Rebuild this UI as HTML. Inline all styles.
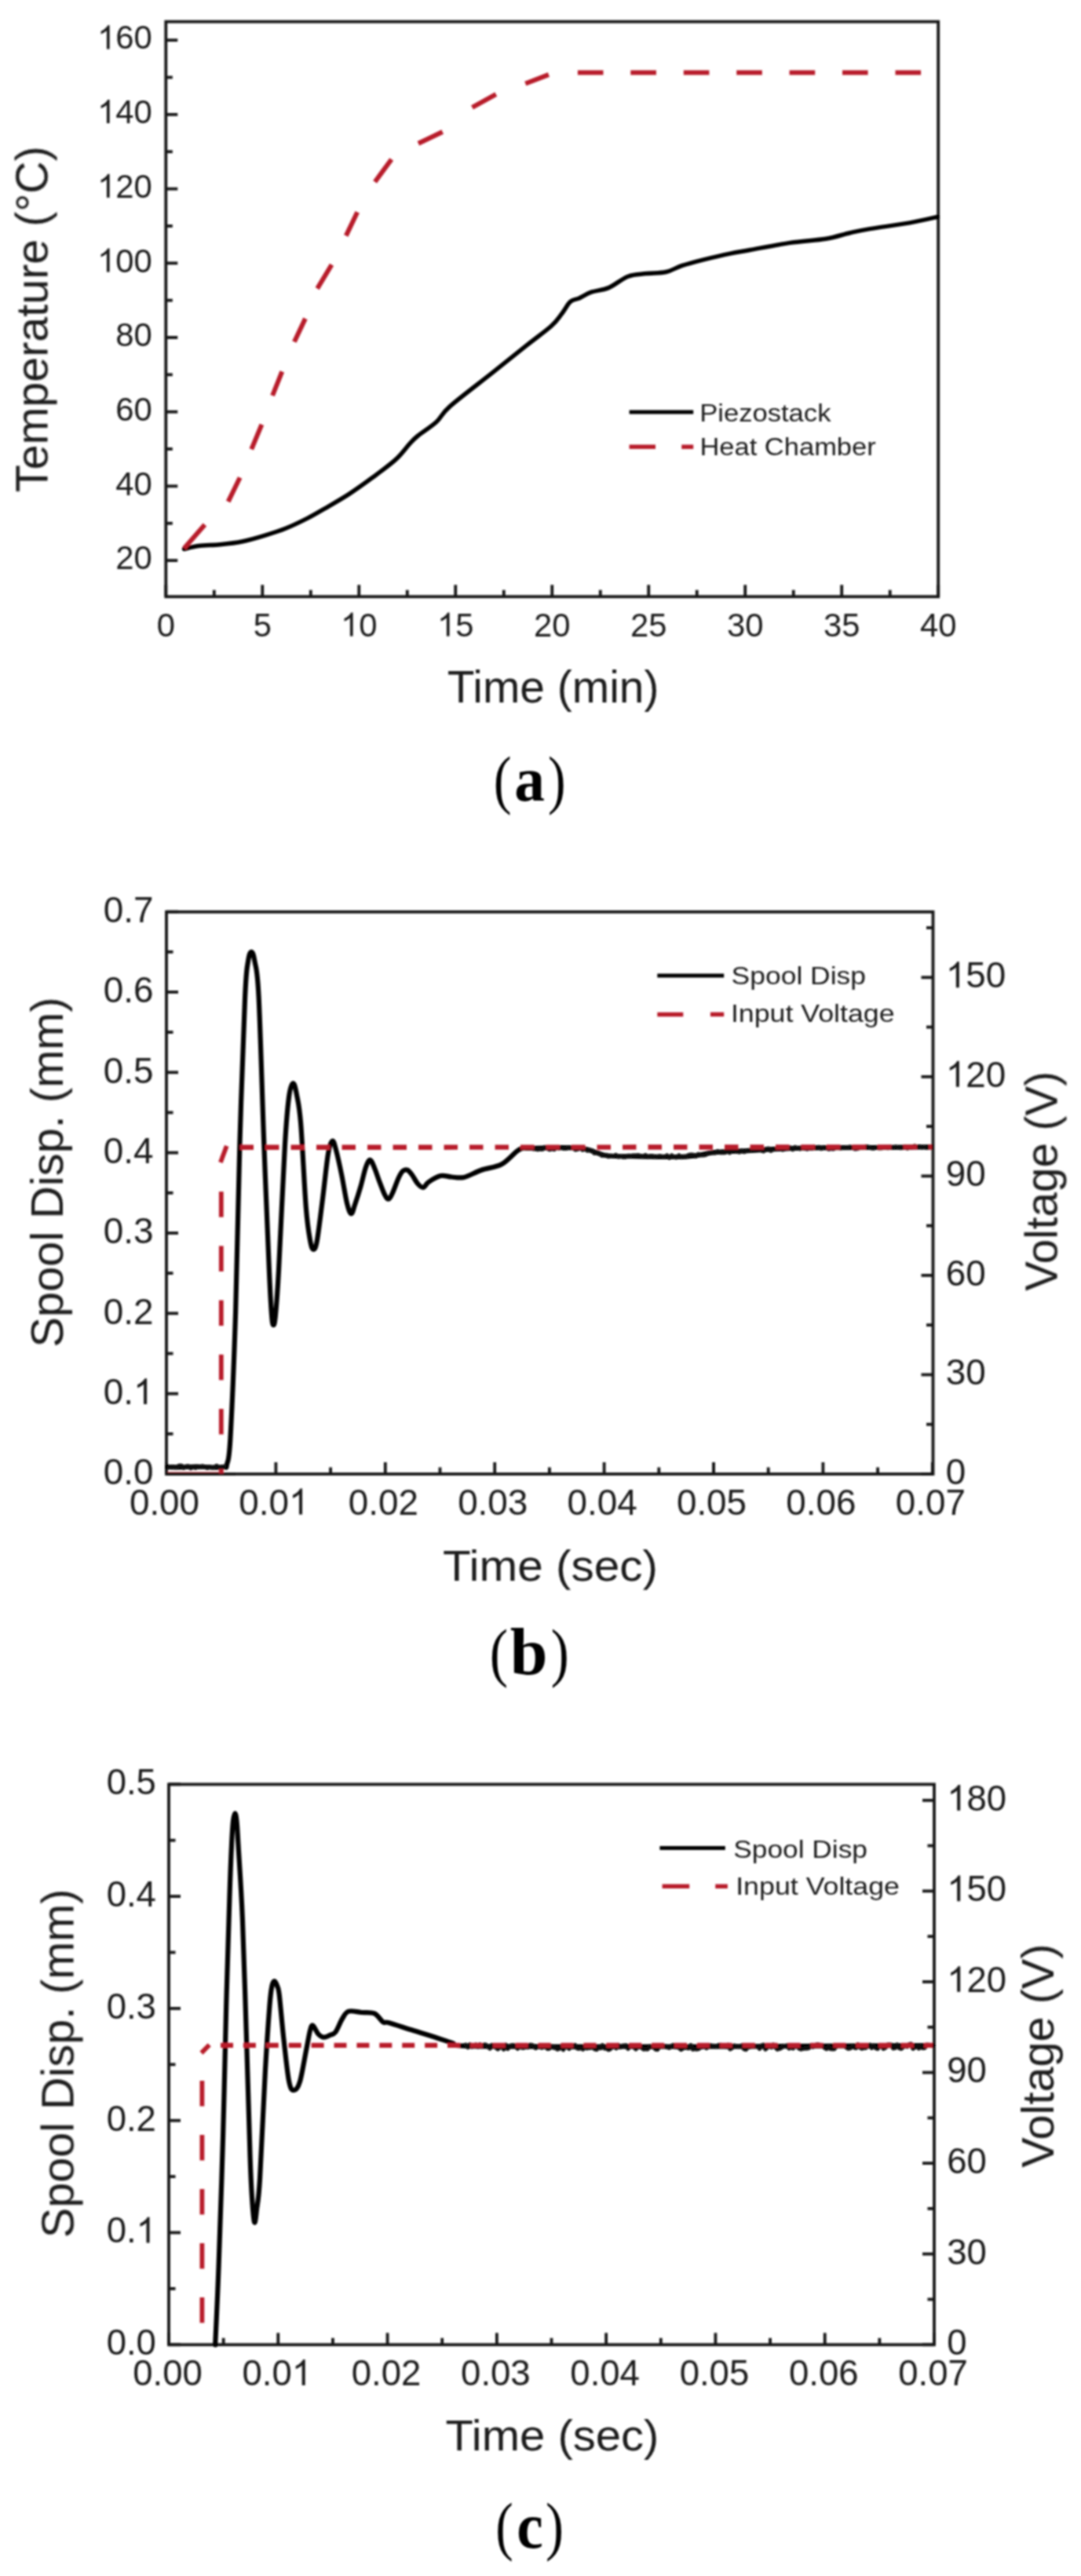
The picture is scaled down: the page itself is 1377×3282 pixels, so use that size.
<!DOCTYPE html>
<html><head><meta charset="utf-8"><title>Figure</title>
<style>html,body{margin:0;padding:0;background:#fff;} svg{display:block;}</style></head>
<body><svg width="1377" height="3282" viewBox="0 0 1377 3282">
<defs><filter id="soft" filterUnits="userSpaceOnUse" x="0" y="0" width="1377" height="3282"><feGaussianBlur stdDeviation="0.8"/></filter></defs>
<rect width="1377" height="3282" fill="#fff"/>
<g filter="url(#soft)">
<line x1="211.30" y1="714.10" x2="226.30" y2="714.10" stroke="#141414" stroke-width="3.8"/>
<line x1="211.30" y1="619.40" x2="226.30" y2="619.40" stroke="#141414" stroke-width="3.8"/>
<line x1="211.30" y1="524.70" x2="226.30" y2="524.70" stroke="#141414" stroke-width="3.8"/>
<line x1="211.30" y1="430.00" x2="226.30" y2="430.00" stroke="#141414" stroke-width="3.8"/>
<line x1="211.30" y1="335.30" x2="226.30" y2="335.30" stroke="#141414" stroke-width="3.8"/>
<line x1="211.30" y1="240.60" x2="226.30" y2="240.60" stroke="#141414" stroke-width="3.8"/>
<line x1="211.30" y1="145.90" x2="226.30" y2="145.90" stroke="#141414" stroke-width="3.8"/>
<line x1="211.30" y1="51.20" x2="226.30" y2="51.20" stroke="#141414" stroke-width="3.8"/>
<line x1="211.30" y1="666.75" x2="219.80" y2="666.75" stroke="#141414" stroke-width="3.8"/>
<line x1="211.30" y1="572.05" x2="219.80" y2="572.05" stroke="#141414" stroke-width="3.8"/>
<line x1="211.30" y1="477.35" x2="219.80" y2="477.35" stroke="#141414" stroke-width="3.8"/>
<line x1="211.30" y1="382.65" x2="219.80" y2="382.65" stroke="#141414" stroke-width="3.8"/>
<line x1="211.30" y1="287.95" x2="219.80" y2="287.95" stroke="#141414" stroke-width="3.8"/>
<line x1="211.30" y1="193.25" x2="219.80" y2="193.25" stroke="#141414" stroke-width="3.8"/>
<line x1="211.30" y1="98.55" x2="219.80" y2="98.55" stroke="#141414" stroke-width="3.8"/>
<line x1="211.30" y1="760.20" x2="211.30" y2="745.20" stroke="#141414" stroke-width="3.8"/>
<line x1="334.29" y1="760.20" x2="334.29" y2="745.20" stroke="#141414" stroke-width="3.8"/>
<line x1="457.27" y1="760.20" x2="457.27" y2="745.20" stroke="#141414" stroke-width="3.8"/>
<line x1="580.26" y1="760.20" x2="580.26" y2="745.20" stroke="#141414" stroke-width="3.8"/>
<line x1="703.25" y1="760.20" x2="703.25" y2="745.20" stroke="#141414" stroke-width="3.8"/>
<line x1="826.24" y1="760.20" x2="826.24" y2="745.20" stroke="#141414" stroke-width="3.8"/>
<line x1="949.23" y1="760.20" x2="949.23" y2="745.20" stroke="#141414" stroke-width="3.8"/>
<line x1="1072.21" y1="760.20" x2="1072.21" y2="745.20" stroke="#141414" stroke-width="3.8"/>
<line x1="1195.20" y1="760.20" x2="1195.20" y2="745.20" stroke="#141414" stroke-width="3.8"/>
<line x1="272.79" y1="760.20" x2="272.79" y2="751.70" stroke="#141414" stroke-width="3.8"/>
<line x1="395.78" y1="760.20" x2="395.78" y2="751.70" stroke="#141414" stroke-width="3.8"/>
<line x1="518.77" y1="760.20" x2="518.77" y2="751.70" stroke="#141414" stroke-width="3.8"/>
<line x1="641.76" y1="760.20" x2="641.76" y2="751.70" stroke="#141414" stroke-width="3.8"/>
<line x1="764.74" y1="760.20" x2="764.74" y2="751.70" stroke="#141414" stroke-width="3.8"/>
<line x1="887.73" y1="760.20" x2="887.73" y2="751.70" stroke="#141414" stroke-width="3.8"/>
<line x1="1010.72" y1="760.20" x2="1010.72" y2="751.70" stroke="#141414" stroke-width="3.8"/>
<line x1="1133.71" y1="760.20" x2="1133.71" y2="751.70" stroke="#141414" stroke-width="3.8"/>
<rect x="211.3" y="27.6" width="983.9000000000001" height="732.6" fill="none" stroke="#141414" stroke-width="3.8"/>
<text x="147.31" y="725.30" font-size="41.80" font-family='"Liberation Sans", sans-serif' fill="#1c1c1c">20</text>
<text x="147.31" y="630.60" font-size="41.80" font-family='"Liberation Sans", sans-serif' fill="#1c1c1c">40</text>
<text x="147.31" y="535.90" font-size="41.80" font-family='"Liberation Sans", sans-serif' fill="#1c1c1c">60</text>
<text x="147.31" y="441.20" font-size="41.80" font-family='"Liberation Sans", sans-serif' fill="#1c1c1c">80</text>
<path d="M763 0H583V1147Q518 1085 412.5 1023T223 930V1104Q374 1175 487 1276T647 1472H763V0Z" transform="translate(124.06,346.50) scale(0.02041,-0.02041)" fill="#1c1c1c"/>
<text x="147.31" y="346.50" font-size="41.80" font-family='"Liberation Sans", sans-serif' fill="#1c1c1c">00</text>
<path d="M763 0H583V1147Q518 1085 412.5 1023T223 930V1104Q374 1175 487 1276T647 1472H763V0Z" transform="translate(124.06,251.80) scale(0.02041,-0.02041)" fill="#1c1c1c"/>
<text x="147.31" y="251.80" font-size="41.80" font-family='"Liberation Sans", sans-serif' fill="#1c1c1c">20</text>
<path d="M763 0H583V1147Q518 1085 412.5 1023T223 930V1104Q374 1175 487 1276T647 1472H763V0Z" transform="translate(124.06,157.10) scale(0.02041,-0.02041)" fill="#1c1c1c"/>
<text x="147.31" y="157.10" font-size="41.80" font-family='"Liberation Sans", sans-serif' fill="#1c1c1c">40</text>
<path d="M763 0H583V1147Q518 1085 412.5 1023T223 930V1104Q374 1175 487 1276T647 1472H763V0Z" transform="translate(124.06,62.40) scale(0.02041,-0.02041)" fill="#1c1c1c"/>
<text x="147.31" y="62.40" font-size="41.80" font-family='"Liberation Sans", sans-serif' fill="#1c1c1c">60</text>
<text x="199.68" y="810.60" font-size="41.80" font-family='"Liberation Sans", sans-serif' fill="#1c1c1c">0</text>
<text x="322.66" y="810.60" font-size="41.80" font-family='"Liberation Sans", sans-serif' fill="#1c1c1c">5</text>
<path d="M763 0H583V1147Q518 1085 412.5 1023T223 930V1104Q374 1175 487 1276T647 1472H763V0Z" transform="translate(434.03,810.60) scale(0.02041,-0.02041)" fill="#1c1c1c"/>
<text x="457.27" y="810.60" font-size="41.80" font-family='"Liberation Sans", sans-serif' fill="#1c1c1c">0</text>
<path d="M763 0H583V1147Q518 1085 412.5 1023T223 930V1104Q374 1175 487 1276T647 1472H763V0Z" transform="translate(557.02,810.60) scale(0.02041,-0.02041)" fill="#1c1c1c"/>
<text x="580.26" y="810.60" font-size="41.80" font-family='"Liberation Sans", sans-serif' fill="#1c1c1c">5</text>
<text x="680.00" y="810.60" font-size="41.80" font-family='"Liberation Sans", sans-serif' fill="#1c1c1c">20</text>
<text x="802.99" y="810.60" font-size="41.80" font-family='"Liberation Sans", sans-serif' fill="#1c1c1c">25</text>
<text x="925.98" y="810.60" font-size="41.80" font-family='"Liberation Sans", sans-serif' fill="#1c1c1c">30</text>
<text x="1048.97" y="810.60" font-size="41.80" font-family='"Liberation Sans", sans-serif' fill="#1c1c1c">35</text>
<text x="1171.95" y="810.60" font-size="41.80" font-family='"Liberation Sans", sans-serif' fill="#1c1c1c">40</text>
<text transform="translate(60.50,627.29) rotate(-90) scale(1.0083,1)" font-size="57.00" font-family='"Liberation Sans", sans-serif' fill="#1c1c1c">Temperature (°C)</text>
<text transform="translate(569.72,895.00) scale(0.9980,1)" font-size="57.00" font-family='"Liberation Sans", sans-serif' fill="#1c1c1c">Time (min)</text>
<path d="M234.5,699.5 C237.6,698.8 245.1,696.5 252.8,695.5 C260.5,694.5 271.2,694.6 280.5,693.7 C289.8,692.8 299.1,691.9 308.3,690.0 C317.6,688.1 326.8,685.4 336.0,682.6 C345.2,679.8 354.6,677.0 363.8,673.3 C373.1,669.6 383.0,664.7 391.5,660.4 C400.0,656.1 406.0,652.4 414.8,647.3 C423.6,642.2 434.5,636.0 444.4,629.6 C454.3,623.2 464.1,616.1 474.0,608.8 C483.9,601.5 495.7,593.0 503.6,585.9 C511.5,578.8 516.7,571.0 521.4,565.9 C526.1,560.8 526.2,560.2 532.0,555.5 C537.8,550.8 549.1,543.8 556.0,537.5 C562.9,531.2 561.5,528.0 573.3,517.6 C585.1,507.2 610.3,488.3 626.6,475.4 C642.9,462.4 658.4,449.9 671.0,439.9 C683.6,429.9 694.7,422.1 702.1,415.5 C709.5,408.9 711.3,405.2 715.4,400.0 C719.5,394.8 722.8,387.7 726.5,384.4 C730.2,381.1 733.1,382.0 737.6,380.0 C742.1,378.0 746.9,374.4 753.2,372.2 C759.5,370.0 767.6,369.9 775.4,366.6 C783.2,363.3 792.1,355.2 800.0,352.2 C807.9,349.2 814.9,349.6 823.0,348.6 C831.1,347.7 840.8,348.2 848.4,346.5 C856.0,344.8 861.2,340.9 868.8,338.4 C876.4,335.9 884.0,333.9 894.2,331.3 C904.4,328.8 919.6,325.2 929.8,323.1 C940.0,321.0 942.6,320.8 955.3,318.5 C968.0,316.2 990.0,311.8 1006.1,309.4 C1022.2,307.0 1039.2,306.4 1051.9,304.3 C1064.6,302.2 1073.2,298.8 1082.5,296.7 C1091.8,294.6 1095.2,293.7 1107.9,291.6 C1120.6,289.5 1144.4,286.4 1158.8,283.9 C1173.2,281.3 1188.5,277.6 1194.4,276.3" fill="none" stroke="#050505" stroke-width="5.5" stroke-linecap="round" stroke-linejoin="round"/>
<line x1="234.6" y1="698.4" x2="260.9" y2="668.4" stroke="#b81e2c" stroke-width="6.0"/>
<line x1="290.7" y1="639.1" x2="305.6" y2="608.5" stroke="#b81e2c" stroke-width="6.0"/>
<line x1="320.3" y1="572.4" x2="333.4" y2="540.9" stroke="#b81e2c" stroke-width="6.0"/>
<line x1="347.1" y1="504.0" x2="359.3" y2="473.4" stroke="#b81e2c" stroke-width="6.0"/>
<line x1="374.9" y1="435.5" x2="388.9" y2="405.9" stroke="#b81e2c" stroke-width="6.0"/>
<line x1="404.2" y1="367.6" x2="422.5" y2="337.3" stroke="#b81e2c" stroke-width="6.0"/>
<line x1="440.8" y1="300.4" x2="455.2" y2="270.2" stroke="#b81e2c" stroke-width="6.0"/>
<line x1="477.6" y1="231.8" x2="498.7" y2="202.9" stroke="#b81e2c" stroke-width="6.0"/>
<line x1="532.9" y1="182.8" x2="563.7" y2="168.0" stroke="#b81e2c" stroke-width="6.0"/>
<line x1="601.5" y1="136.9" x2="631.8" y2="120.2" stroke="#b81e2c" stroke-width="6.0"/>
<line x1="669.3" y1="106.5" x2="698.9" y2="95.1" stroke="#b81e2c" stroke-width="6.0"/>
<line x1="735.9" y1="92.6" x2="768.5" y2="92.6" stroke="#b81e2c" stroke-width="6.0"/>
<line x1="803.3" y1="92.6" x2="835.9" y2="92.6" stroke="#b81e2c" stroke-width="6.0"/>
<line x1="870.8" y1="92.6" x2="903.4" y2="92.6" stroke="#b81e2c" stroke-width="6.0"/>
<line x1="938.2" y1="92.6" x2="970.8" y2="92.6" stroke="#b81e2c" stroke-width="6.0"/>
<line x1="1005.6" y1="92.6" x2="1038.2" y2="92.6" stroke="#b81e2c" stroke-width="6.0"/>
<line x1="1073.0" y1="92.6" x2="1105.6" y2="92.6" stroke="#b81e2c" stroke-width="6.0"/>
<line x1="1140.5" y1="92.6" x2="1173.1" y2="92.6" stroke="#b81e2c" stroke-width="6.0"/>
<line x1="801.60" y1="525.00" x2="883.20" y2="525.00" stroke="#050505" stroke-width="5"/>
<text transform="translate(891.14,537.00) scale(1.0988,1)" font-size="31.50" font-family='"Liberation Sans", sans-serif' fill="#1c1c1c">Piezostack</text>
<line x1="801.60" y1="569.30" x2="835.00" y2="569.30" stroke="#b81e2c" stroke-width="5.5"/>
<line x1="868.20" y1="569.30" x2="883.20" y2="569.30" stroke="#b81e2c" stroke-width="5.5"/>
<text transform="translate(891.45,579.60) scale(1.0954,1)" font-size="31.50" font-family='"Liberation Sans", sans-serif' fill="#1c1c1c">Heat Chamber</text>
<text transform="translate(628.83,1021.38) scale(0.8279,1)" font-size="82.42" font-family='"Liberation Serif", serif' fill="#000">(</text>
<text transform="translate(655.29,1020.20) scale(0.9669,1)" font-size="80.00" font-family='"Liberation Serif", serif' font-weight="bold" fill="#000">a</text>
<text transform="translate(698.09,1021.38) scale(0.8245,1)" font-size="82.42" font-family='"Liberation Serif", serif' fill="#000">)</text>
<line x1="212.00" y1="1878.00" x2="227.00" y2="1878.00" stroke="#141414" stroke-width="3.8"/>
<line x1="212.00" y1="1775.66" x2="227.00" y2="1775.66" stroke="#141414" stroke-width="3.8"/>
<line x1="212.00" y1="1673.32" x2="227.00" y2="1673.32" stroke="#141414" stroke-width="3.8"/>
<line x1="212.00" y1="1570.98" x2="227.00" y2="1570.98" stroke="#141414" stroke-width="3.8"/>
<line x1="212.00" y1="1468.64" x2="227.00" y2="1468.64" stroke="#141414" stroke-width="3.8"/>
<line x1="212.00" y1="1366.30" x2="227.00" y2="1366.30" stroke="#141414" stroke-width="3.8"/>
<line x1="212.00" y1="1263.96" x2="227.00" y2="1263.96" stroke="#141414" stroke-width="3.8"/>
<line x1="212.00" y1="1161.62" x2="227.00" y2="1161.62" stroke="#141414" stroke-width="3.8"/>
<line x1="212.00" y1="1826.83" x2="220.50" y2="1826.83" stroke="#141414" stroke-width="3.8"/>
<line x1="212.00" y1="1724.49" x2="220.50" y2="1724.49" stroke="#141414" stroke-width="3.8"/>
<line x1="212.00" y1="1622.15" x2="220.50" y2="1622.15" stroke="#141414" stroke-width="3.8"/>
<line x1="212.00" y1="1519.81" x2="220.50" y2="1519.81" stroke="#141414" stroke-width="3.8"/>
<line x1="212.00" y1="1417.47" x2="220.50" y2="1417.47" stroke="#141414" stroke-width="3.8"/>
<line x1="212.00" y1="1315.13" x2="220.50" y2="1315.13" stroke="#141414" stroke-width="3.8"/>
<line x1="212.00" y1="1212.79" x2="220.50" y2="1212.79" stroke="#141414" stroke-width="3.8"/>
<line x1="1188.50" y1="1878.00" x2="1173.50" y2="1878.00" stroke="#141414" stroke-width="3.8"/>
<line x1="1188.50" y1="1751.46" x2="1173.50" y2="1751.46" stroke="#141414" stroke-width="3.8"/>
<line x1="1188.50" y1="1624.92" x2="1173.50" y2="1624.92" stroke="#141414" stroke-width="3.8"/>
<line x1="1188.50" y1="1498.38" x2="1173.50" y2="1498.38" stroke="#141414" stroke-width="3.8"/>
<line x1="1188.50" y1="1371.84" x2="1173.50" y2="1371.84" stroke="#141414" stroke-width="3.8"/>
<line x1="1188.50" y1="1245.30" x2="1173.50" y2="1245.30" stroke="#141414" stroke-width="3.8"/>
<line x1="1188.50" y1="1814.73" x2="1180.00" y2="1814.73" stroke="#141414" stroke-width="3.8"/>
<line x1="1188.50" y1="1688.19" x2="1180.00" y2="1688.19" stroke="#141414" stroke-width="3.8"/>
<line x1="1188.50" y1="1561.65" x2="1180.00" y2="1561.65" stroke="#141414" stroke-width="3.8"/>
<line x1="1188.50" y1="1435.11" x2="1180.00" y2="1435.11" stroke="#141414" stroke-width="3.8"/>
<line x1="1188.50" y1="1308.57" x2="1180.00" y2="1308.57" stroke="#141414" stroke-width="3.8"/>
<line x1="1188.50" y1="1182.03" x2="1180.00" y2="1182.03" stroke="#141414" stroke-width="3.8"/>
<line x1="212.00" y1="1878.00" x2="212.00" y2="1863.00" stroke="#141414" stroke-width="3.8"/>
<line x1="351.40" y1="1878.00" x2="351.40" y2="1863.00" stroke="#141414" stroke-width="3.8"/>
<line x1="490.80" y1="1878.00" x2="490.80" y2="1863.00" stroke="#141414" stroke-width="3.8"/>
<line x1="630.20" y1="1878.00" x2="630.20" y2="1863.00" stroke="#141414" stroke-width="3.8"/>
<line x1="769.60" y1="1878.00" x2="769.60" y2="1863.00" stroke="#141414" stroke-width="3.8"/>
<line x1="909.00" y1="1878.00" x2="909.00" y2="1863.00" stroke="#141414" stroke-width="3.8"/>
<line x1="1048.40" y1="1878.00" x2="1048.40" y2="1863.00" stroke="#141414" stroke-width="3.8"/>
<line x1="1187.80" y1="1878.00" x2="1187.80" y2="1863.00" stroke="#141414" stroke-width="3.8"/>
<line x1="281.70" y1="1878.00" x2="281.70" y2="1869.50" stroke="#141414" stroke-width="3.8"/>
<line x1="421.10" y1="1878.00" x2="421.10" y2="1869.50" stroke="#141414" stroke-width="3.8"/>
<line x1="560.50" y1="1878.00" x2="560.50" y2="1869.50" stroke="#141414" stroke-width="3.8"/>
<line x1="699.90" y1="1878.00" x2="699.90" y2="1869.50" stroke="#141414" stroke-width="3.8"/>
<line x1="839.30" y1="1878.00" x2="839.30" y2="1869.50" stroke="#141414" stroke-width="3.8"/>
<line x1="978.70" y1="1878.00" x2="978.70" y2="1869.50" stroke="#141414" stroke-width="3.8"/>
<line x1="1118.10" y1="1878.00" x2="1118.10" y2="1869.50" stroke="#141414" stroke-width="3.8"/>
<rect x="212.0" y="1161.8" width="976.5" height="716.2" fill="none" stroke="#141414" stroke-width="3.8"/>
<text x="131.83" y="1891.40" font-size="45.80" font-family='"Liberation Sans", sans-serif' fill="#1c1c1c">0.0</text>
<text x="131.83" y="1789.06" font-size="45.80" font-family='"Liberation Sans", sans-serif' fill="#1c1c1c">0.</text>
<path d="M763 0H583V1147Q518 1085 412.5 1023T223 930V1104Q374 1175 487 1276T647 1472H763V0Z" transform="translate(170.03,1789.06) scale(0.02236,-0.02236)" fill="#1c1c1c"/>
<text x="131.83" y="1686.72" font-size="45.80" font-family='"Liberation Sans", sans-serif' fill="#1c1c1c">0.2</text>
<text x="131.83" y="1584.38" font-size="45.80" font-family='"Liberation Sans", sans-serif' fill="#1c1c1c">0.3</text>
<text x="131.83" y="1482.04" font-size="45.80" font-family='"Liberation Sans", sans-serif' fill="#1c1c1c">0.4</text>
<text x="131.83" y="1379.70" font-size="45.80" font-family='"Liberation Sans", sans-serif' fill="#1c1c1c">0.5</text>
<text x="131.83" y="1277.36" font-size="45.80" font-family='"Liberation Sans", sans-serif' fill="#1c1c1c">0.6</text>
<text x="131.83" y="1175.02" font-size="45.80" font-family='"Liberation Sans", sans-serif' fill="#1c1c1c">0.7</text>
<text x="1204.82" y="1890.90" font-size="45.80" font-family='"Liberation Sans", sans-serif' fill="#1c1c1c">0</text>
<text x="1204.82" y="1764.36" font-size="45.80" font-family='"Liberation Sans", sans-serif' fill="#1c1c1c">30</text>
<text x="1204.82" y="1637.82" font-size="45.80" font-family='"Liberation Sans", sans-serif' fill="#1c1c1c">60</text>
<text x="1204.82" y="1511.28" font-size="45.80" font-family='"Liberation Sans", sans-serif' fill="#1c1c1c">90</text>
<path d="M763 0H583V1147Q518 1085 412.5 1023T223 930V1104Q374 1175 487 1276T647 1472H763V0Z" transform="translate(1204.82,1384.74) scale(0.02236,-0.02236)" fill="#1c1c1c"/>
<text x="1230.30" y="1384.74" font-size="45.80" font-family='"Liberation Sans", sans-serif' fill="#1c1c1c">20</text>
<path d="M763 0H583V1147Q518 1085 412.5 1023T223 930V1104Q374 1175 487 1276T647 1472H763V0Z" transform="translate(1204.82,1258.20) scale(0.02236,-0.02236)" fill="#1c1c1c"/>
<text x="1230.30" y="1258.20" font-size="45.80" font-family='"Liberation Sans", sans-serif' fill="#1c1c1c">50</text>
<text x="164.93" y="1929.50" font-size="45.80" font-family='"Liberation Sans", sans-serif' fill="#1c1c1c">0.00</text>
<text x="304.33" y="1929.50" font-size="45.80" font-family='"Liberation Sans", sans-serif' fill="#1c1c1c">0.0</text>
<path d="M763 0H583V1147Q518 1085 412.5 1023T223 930V1104Q374 1175 487 1276T647 1472H763V0Z" transform="translate(368.00,1929.50) scale(0.02236,-0.02236)" fill="#1c1c1c"/>
<text x="443.73" y="1929.50" font-size="45.80" font-family='"Liberation Sans", sans-serif' fill="#1c1c1c">0.02</text>
<text x="583.13" y="1929.50" font-size="45.80" font-family='"Liberation Sans", sans-serif' fill="#1c1c1c">0.03</text>
<text x="722.53" y="1929.50" font-size="45.80" font-family='"Liberation Sans", sans-serif' fill="#1c1c1c">0.04</text>
<text x="861.93" y="1929.50" font-size="45.80" font-family='"Liberation Sans", sans-serif' fill="#1c1c1c">0.05</text>
<text x="1001.33" y="1929.50" font-size="45.80" font-family='"Liberation Sans", sans-serif' fill="#1c1c1c">0.06</text>
<text x="1140.73" y="1929.50" font-size="45.80" font-family='"Liberation Sans", sans-serif' fill="#1c1c1c">0.07</text>
<text transform="translate(80.00,1716.60) rotate(-90) scale(0.9962,1)" font-size="58.00" font-family='"Liberation Sans", sans-serif' fill="#1c1c1c">Spool Disp. (mm)</text>
<text transform="translate(1346.50,1644.78) rotate(-90) scale(0.9751,1)" font-size="58.00" font-family='"Liberation Sans", sans-serif' fill="#1c1c1c">Voltage (V)</text>
<text transform="translate(563.98,2013.50) scale(1.0443,1)" font-size="56.00" font-family='"Liberation Sans", sans-serif' fill="#1c1c1c">Time (sec)</text>
<path d="M213.0,1869.0 C215.8,1869.1 223.8,1869.6 230.0,1869.5 C236.2,1869.4 243.3,1868.5 250.0,1868.5 C256.7,1868.5 264.0,1869.4 270.0,1869.5 C276.0,1869.6 282.8,1869.6 286.0,1869.0 C289.2,1868.4 287.8,1872.0 289.0,1866.0 C290.2,1860.0 291.5,1865.2 293.4,1832.9 C295.2,1800.6 298.1,1734.6 300.1,1672.1 C302.1,1609.6 303.4,1524.9 305.4,1457.9 C307.4,1391.0 310.3,1309.2 312.1,1270.4 C313.9,1231.6 314.6,1234.6 316.0,1225.0 C317.4,1215.4 318.8,1212.8 320.2,1212.8 C321.6,1212.8 322.9,1215.4 324.5,1225.0 C326.1,1234.6 327.6,1231.6 329.6,1270.4 C331.6,1309.2 334.1,1399.9 336.3,1457.9 C338.5,1515.9 341.3,1582.4 342.9,1618.6 C344.5,1654.8 345.1,1663.4 346.0,1675.0 C346.9,1686.6 347.5,1688.2 348.3,1688.2 C349.1,1688.2 349.9,1686.6 351.0,1675.0 C352.1,1663.4 353.0,1654.8 355.0,1618.6 C357.0,1582.4 360.8,1494.7 363.0,1457.9 C365.2,1421.1 366.3,1411.0 368.0,1398.0 C369.7,1385.0 371.5,1380.7 373.2,1380.2 C374.9,1379.7 376.4,1386.5 378.0,1395.0 C379.6,1403.5 381.1,1407.2 383.1,1431.1 C385.1,1455.0 387.8,1513.4 389.8,1538.2 C391.8,1563.0 393.4,1571.1 395.0,1580.0 C396.6,1588.9 397.7,1591.8 399.2,1591.8 C400.7,1591.8 402.0,1591.2 404.0,1580.0 C406.0,1568.8 409.0,1543.1 411.3,1524.8 C413.6,1506.5 416.0,1481.8 418.0,1470.0 C420.0,1458.2 421.6,1454.6 423.3,1453.8 C425.0,1453.0 426.0,1457.6 428.0,1465.0 C430.0,1472.4 433.1,1486.7 435.4,1498.0 C437.7,1509.3 440.0,1525.0 442.0,1533.0 C444.0,1541.0 445.7,1546.0 447.4,1546.3 C449.1,1546.6 450.0,1540.8 452.0,1535.0 C454.0,1529.2 457.2,1519.4 459.5,1511.4 C461.8,1503.4 464.0,1492.6 466.0,1487.0 C468.0,1481.4 469.7,1477.7 471.5,1477.9 C473.3,1478.1 475.0,1483.3 477.0,1488.0 C479.0,1492.7 481.4,1500.4 483.6,1506.1 C485.8,1511.8 488.1,1518.4 490.0,1522.0 C491.9,1525.6 493.1,1528.0 494.8,1527.7 C496.5,1527.4 497.9,1524.5 500.0,1520.0 C502.1,1515.5 505.5,1505.4 507.7,1500.7 C509.9,1496.0 511.1,1493.7 513.0,1492.0 C514.9,1490.3 516.9,1489.9 518.9,1490.7 C520.9,1491.5 522.8,1494.1 525.0,1497.0 C527.2,1499.9 529.6,1505.3 532.0,1508.0 C534.4,1510.7 536.9,1513.2 539.2,1512.9 C541.5,1512.6 542.3,1508.5 546.0,1506.0 C549.7,1503.5 556.6,1499.2 561.4,1498.1 C566.2,1497.0 570.1,1499.2 575.0,1499.5 C579.9,1499.8 584.6,1501.4 591.0,1499.9 C597.4,1498.4 605.2,1493.5 613.2,1490.7 C621.2,1487.9 631.1,1487.6 639.1,1483.3 C647.1,1479.0 655.1,1468.2 661.3,1464.8 C667.5,1461.4 663.1,1463.2 676.1,1462.9 C689.1,1462.6 723.0,1461.4 739.0,1462.9 C755.0,1464.5 760.0,1470.5 772.3,1472.2 C784.6,1473.9 796.0,1473.0 813.0,1473.3 C830.0,1473.5 857.7,1474.6 874.0,1473.7 C890.3,1472.8 898.7,1469.3 911.0,1468.1 C923.3,1466.9 929.5,1467.2 948.0,1466.3 C966.5,1465.4 995.0,1463.3 1022.0,1462.6 C1049.0,1461.9 1082.6,1462.2 1110.0,1462.0 C1137.4,1461.8 1173.8,1461.5 1186.5,1461.4" fill="none" stroke="#050505" stroke-width="6.2" stroke-linecap="round" stroke-linejoin="round"/>
<path d="M213.0,1868.2 L216.0,1869.1 L219.0,1868.6 L222.0,1869.3 L225.0,1869.4 L228.0,1867.6 L231.0,1867.4 L234.0,1870.1 L237.0,1868.2 L240.0,1868.1 L243.0,1870.6 L246.0,1868.9 L249.0,1870.1 L252.0,1868.9 L255.0,1869.4 L258.0,1867.9 L261.0,1869.4 L264.0,1870.2 L267.0,1869.1 L270.0,1869.8 L273.0,1869.5 L276.0,1867.6 L279.0,1869.8 L282.0,1869.3 L285.0,1868.4 L288.0,1869.0" fill="none" stroke="#080808" stroke-width="5.5" stroke-linecap="butt" stroke-linejoin="round"/>
<path d="M676.0,1463.4 L679.0,1463.9 L682.0,1464.1 L685.0,1464.7 L688.0,1464.0 L691.0,1464.6 L694.0,1461.4 L697.0,1463.0 L700.0,1464.8 L703.0,1463.8 L706.0,1464.7 L709.0,1461.9 L712.0,1463.2 L715.0,1462.4 L718.0,1463.5 L721.0,1463.6 L724.0,1461.6 L727.0,1462.4 L730.0,1462.6 L733.0,1465.0 L736.0,1464.4 L739.0,1462.3 L742.0,1465.3 L745.0,1463.7 L748.0,1466.2 L751.0,1465.2 L754.0,1465.6 L757.0,1469.5 L760.0,1467.9 L763.0,1468.7 L766.0,1472.2 L769.0,1472.6 L772.0,1471.2 L775.2,1473.8 L778.3,1472.3 L781.5,1472.9 L784.6,1471.3 L787.8,1474.1 L790.9,1473.3 L794.1,1474.4 L797.2,1474.2 L800.4,1472.2 L803.5,1472.5 L806.7,1471.9 L809.8,1471.9 L813.0,1471.7 L816.0,1472.6 L819.1,1473.7 L822.1,1471.6 L825.2,1474.0 L828.2,1472.8 L831.3,1472.7 L834.4,1474.6 L837.4,1473.4 L840.5,1472.8 L843.5,1473.4 L846.5,1474.3 L849.6,1471.9 L852.6,1475.3 L855.7,1471.9 L858.8,1474.5 L861.8,1474.9 L864.9,1471.9 L867.9,1474.7 L871.0,1473.2 L874.0,1474.0 L877.1,1471.5 L880.2,1471.1 L883.2,1471.2 L886.3,1473.5 L889.4,1470.3 L892.5,1471.8 L895.6,1472.0 L898.7,1471.6 L901.8,1468.9 L904.8,1468.5 L907.9,1468.7 L911.0,1469.1 L914.1,1466.5 L917.2,1468.7 L920.2,1468.7 L923.3,1468.8 L926.4,1465.7 L929.5,1468.8 L932.6,1465.6 L935.7,1466.3 L938.8,1467.1 L941.8,1468.1 L944.9,1465.9 L948.0,1467.8 L951.1,1466.3 L954.2,1465.3 L957.2,1465.2 L960.3,1464.5 L963.4,1464.0 L966.5,1464.1 L969.6,1465.9 L972.7,1466.9 L975.8,1463.7 L978.8,1463.1 L981.9,1466.4 L985.0,1464.6 L988.1,1464.0 L991.2,1463.2 L994.2,1464.3 L997.3,1465.0 L1000.4,1463.5 L1003.5,1463.2 L1006.6,1461.8 L1009.7,1464.7 L1012.8,1461.4 L1015.8,1462.9 L1018.9,1464.0 L1022.0,1461.3 L1025.0,1463.4 L1028.1,1464.2 L1031.1,1463.0 L1034.1,1463.6 L1037.2,1461.1 L1040.2,1462.2 L1043.2,1461.2 L1046.3,1463.7 L1049.3,1461.7 L1052.3,1462.2 L1055.4,1464.2 L1058.4,1463.6 L1061.4,1464.0 L1064.5,1462.1 L1067.5,1462.2 L1070.6,1463.1 L1073.6,1462.2 L1076.6,1461.5 L1079.7,1461.9 L1082.7,1460.9 L1085.7,1461.7 L1088.8,1463.9 L1091.8,1463.8 L1094.8,1462.6 L1097.9,1462.1 L1100.9,1461.5 L1103.9,1460.6 L1107.0,1461.2 L1110.0,1463.0 L1113.1,1463.3 L1116.1,1461.5 L1119.2,1463.0 L1122.2,1462.9 L1125.3,1462.6 L1128.4,1462.4 L1131.4,1462.8 L1134.5,1461.3 L1137.5,1462.5 L1140.6,1461.0 L1143.7,1461.7 L1146.7,1462.7 L1149.8,1462.4 L1152.8,1460.9 L1155.9,1463.2 L1159.0,1462.2 L1162.0,1461.9 L1165.1,1459.8 L1168.1,1461.7 L1171.2,1460.6 L1174.3,1462.1 L1177.3,1461.3 L1180.4,1462.6 L1183.4,1462.0 L1186.5,1461.4" fill="none" stroke="#080808" stroke-width="5.0" stroke-linecap="butt" stroke-linejoin="round"/>
<path d="M213.0,1877.2 L281.8,1877.2" fill="none" stroke="#b81e2c" stroke-width="3.5" stroke-linecap="butt" stroke-linejoin="round"/>
<line x1="212.00" y1="1878.20" x2="300.00" y2="1878.20" stroke="#141414" stroke-width="3.8"/>
<line x1="281.8" y1="1877.5" x2="281.8" y2="1871.5" stroke="#b81e2c" stroke-width="5.8"/>
<line x1="281.8" y1="1827.5" x2="281.8" y2="1795.0" stroke="#b81e2c" stroke-width="5.8"/>
<line x1="281.8" y1="1758.3" x2="281.8" y2="1725.8" stroke="#b81e2c" stroke-width="5.8"/>
<line x1="281.8" y1="1689.1" x2="281.8" y2="1656.6" stroke="#b81e2c" stroke-width="5.8"/>
<line x1="281.8" y1="1619.9" x2="281.8" y2="1587.4" stroke="#b81e2c" stroke-width="5.8"/>
<line x1="281.8" y1="1550.7" x2="281.8" y2="1518.2" stroke="#b81e2c" stroke-width="5.8"/>
<line x1="280.9" y1="1481.0" x2="288.7" y2="1460.0" stroke="#b81e2c" stroke-width="5.8"/>
<path d="M291.0,1461.8 L1187.0,1461.4" fill="none" stroke="#b81e2c" stroke-width="6.4" stroke-linecap="butt" stroke-linejoin="round" stroke-dasharray="17.5 15" stroke-dashoffset="-14.5"/>
<line x1="837.30" y1="1243.00" x2="922.20" y2="1243.00" stroke="#050505" stroke-width="5"/>
<text transform="translate(931.60,1254.00) scale(1.1079,1)" font-size="32.00" font-family='"Liberation Sans", sans-serif' fill="#1c1c1c">Spool Disp</text>
<line x1="837.30" y1="1292.40" x2="870.30" y2="1292.40" stroke="#b81e2c" stroke-width="5.5"/>
<line x1="904.90" y1="1292.40" x2="922.20" y2="1292.40" stroke="#b81e2c" stroke-width="5.5"/>
<text transform="translate(930.89,1301.50) scale(1.1174,1)" font-size="32.00" font-family='"Liberation Sans", sans-serif' fill="#1c1c1c">Input Voltage</text>
<text transform="translate(623.76,2133.08) scale(0.8469,1)" font-size="82.42" font-family='"Liberation Serif", serif' fill="#000">(</text>
<text transform="translate(649.83,2133.15) scale(1.0085,1)" font-size="85.25" font-family='"Liberation Serif", serif' font-weight="bold" fill="#000">b</text>
<text transform="translate(701.75,2133.08) scale(0.8387,1)" font-size="82.42" font-family='"Liberation Serif", serif' fill="#000">)</text>
<line x1="215.00" y1="2987.30" x2="230.00" y2="2987.30" stroke="#141414" stroke-width="3.8"/>
<line x1="215.00" y1="2844.50" x2="230.00" y2="2844.50" stroke="#141414" stroke-width="3.8"/>
<line x1="215.00" y1="2701.70" x2="230.00" y2="2701.70" stroke="#141414" stroke-width="3.8"/>
<line x1="215.00" y1="2558.90" x2="230.00" y2="2558.90" stroke="#141414" stroke-width="3.8"/>
<line x1="215.00" y1="2416.10" x2="230.00" y2="2416.10" stroke="#141414" stroke-width="3.8"/>
<line x1="215.00" y1="2273.30" x2="230.00" y2="2273.30" stroke="#141414" stroke-width="3.8"/>
<line x1="215.00" y1="2915.90" x2="223.50" y2="2915.90" stroke="#141414" stroke-width="3.8"/>
<line x1="215.00" y1="2773.10" x2="223.50" y2="2773.10" stroke="#141414" stroke-width="3.8"/>
<line x1="215.00" y1="2630.30" x2="223.50" y2="2630.30" stroke="#141414" stroke-width="3.8"/>
<line x1="215.00" y1="2487.50" x2="223.50" y2="2487.50" stroke="#141414" stroke-width="3.8"/>
<line x1="215.00" y1="2344.70" x2="223.50" y2="2344.70" stroke="#141414" stroke-width="3.8"/>
<line x1="1190.00" y1="2987.30" x2="1175.00" y2="2987.30" stroke="#141414" stroke-width="3.8"/>
<line x1="1190.00" y1="2871.71" x2="1175.00" y2="2871.71" stroke="#141414" stroke-width="3.8"/>
<line x1="1190.00" y1="2756.12" x2="1175.00" y2="2756.12" stroke="#141414" stroke-width="3.8"/>
<line x1="1190.00" y1="2640.53" x2="1175.00" y2="2640.53" stroke="#141414" stroke-width="3.8"/>
<line x1="1190.00" y1="2524.94" x2="1175.00" y2="2524.94" stroke="#141414" stroke-width="3.8"/>
<line x1="1190.00" y1="2409.35" x2="1175.00" y2="2409.35" stroke="#141414" stroke-width="3.8"/>
<line x1="1190.00" y1="2293.76" x2="1175.00" y2="2293.76" stroke="#141414" stroke-width="3.8"/>
<line x1="1190.00" y1="2929.51" x2="1181.50" y2="2929.51" stroke="#141414" stroke-width="3.8"/>
<line x1="1190.00" y1="2813.91" x2="1181.50" y2="2813.91" stroke="#141414" stroke-width="3.8"/>
<line x1="1190.00" y1="2698.33" x2="1181.50" y2="2698.33" stroke="#141414" stroke-width="3.8"/>
<line x1="1190.00" y1="2582.74" x2="1181.50" y2="2582.74" stroke="#141414" stroke-width="3.8"/>
<line x1="1190.00" y1="2467.15" x2="1181.50" y2="2467.15" stroke="#141414" stroke-width="3.8"/>
<line x1="1190.00" y1="2351.56" x2="1181.50" y2="2351.56" stroke="#141414" stroke-width="3.8"/>
<line x1="215.00" y1="2987.30" x2="215.00" y2="2972.30" stroke="#141414" stroke-width="3.8"/>
<line x1="354.29" y1="2987.30" x2="354.29" y2="2972.30" stroke="#141414" stroke-width="3.8"/>
<line x1="493.57" y1="2987.30" x2="493.57" y2="2972.30" stroke="#141414" stroke-width="3.8"/>
<line x1="632.86" y1="2987.30" x2="632.86" y2="2972.30" stroke="#141414" stroke-width="3.8"/>
<line x1="772.14" y1="2987.30" x2="772.14" y2="2972.30" stroke="#141414" stroke-width="3.8"/>
<line x1="911.43" y1="2987.30" x2="911.43" y2="2972.30" stroke="#141414" stroke-width="3.8"/>
<line x1="1050.71" y1="2987.30" x2="1050.71" y2="2972.30" stroke="#141414" stroke-width="3.8"/>
<line x1="1190.00" y1="2987.30" x2="1190.00" y2="2972.30" stroke="#141414" stroke-width="3.8"/>
<line x1="284.64" y1="2987.30" x2="284.64" y2="2978.80" stroke="#141414" stroke-width="3.8"/>
<line x1="423.93" y1="2987.30" x2="423.93" y2="2978.80" stroke="#141414" stroke-width="3.8"/>
<line x1="563.21" y1="2987.30" x2="563.21" y2="2978.80" stroke="#141414" stroke-width="3.8"/>
<line x1="702.50" y1="2987.30" x2="702.50" y2="2978.80" stroke="#141414" stroke-width="3.8"/>
<line x1="841.79" y1="2987.30" x2="841.79" y2="2978.80" stroke="#141414" stroke-width="3.8"/>
<line x1="981.07" y1="2987.30" x2="981.07" y2="2978.80" stroke="#141414" stroke-width="3.8"/>
<line x1="1120.36" y1="2987.30" x2="1120.36" y2="2978.80" stroke="#141414" stroke-width="3.8"/>
<rect x="215.0" y="2273.4" width="975.0" height="713.9000000000001" fill="none" stroke="#141414" stroke-width="3.8"/>
<text x="135.65" y="3000.20" font-size="45.50" font-family='"Liberation Sans", sans-serif' fill="#1c1c1c">0.0</text>
<text x="135.65" y="2857.40" font-size="45.50" font-family='"Liberation Sans", sans-serif' fill="#1c1c1c">0.</text>
<path d="M763 0H583V1147Q518 1085 412.5 1023T223 930V1104Q374 1175 487 1276T647 1472H763V0Z" transform="translate(173.59,2857.40) scale(0.02222,-0.02222)" fill="#1c1c1c"/>
<text x="135.65" y="2714.60" font-size="45.50" font-family='"Liberation Sans", sans-serif' fill="#1c1c1c">0.2</text>
<text x="135.65" y="2571.80" font-size="45.50" font-family='"Liberation Sans", sans-serif' fill="#1c1c1c">0.3</text>
<text x="135.65" y="2429.00" font-size="45.50" font-family='"Liberation Sans", sans-serif' fill="#1c1c1c">0.4</text>
<text x="135.65" y="2286.20" font-size="45.50" font-family='"Liberation Sans", sans-serif' fill="#1c1c1c">0.5</text>
<text x="1206.24" y="3000.20" font-size="45.50" font-family='"Liberation Sans", sans-serif' fill="#1c1c1c">0</text>
<text x="1206.24" y="2884.61" font-size="45.50" font-family='"Liberation Sans", sans-serif' fill="#1c1c1c">30</text>
<text x="1206.24" y="2769.02" font-size="45.50" font-family='"Liberation Sans", sans-serif' fill="#1c1c1c">60</text>
<text x="1206.24" y="2653.43" font-size="45.50" font-family='"Liberation Sans", sans-serif' fill="#1c1c1c">90</text>
<path d="M763 0H583V1147Q518 1085 412.5 1023T223 930V1104Q374 1175 487 1276T647 1472H763V0Z" transform="translate(1206.24,2537.84) scale(0.02222,-0.02222)" fill="#1c1c1c"/>
<text x="1231.54" y="2537.84" font-size="45.50" font-family='"Liberation Sans", sans-serif' fill="#1c1c1c">20</text>
<path d="M763 0H583V1147Q518 1085 412.5 1023T223 930V1104Q374 1175 487 1276T647 1472H763V0Z" transform="translate(1206.24,2422.25) scale(0.02222,-0.02222)" fill="#1c1c1c"/>
<text x="1231.54" y="2422.25" font-size="45.50" font-family='"Liberation Sans", sans-serif' fill="#1c1c1c">50</text>
<path d="M763 0H583V1147Q518 1085 412.5 1023T223 930V1104Q374 1175 487 1276T647 1472H763V0Z" transform="translate(1206.24,2306.66) scale(0.02222,-0.02222)" fill="#1c1c1c"/>
<text x="1231.54" y="2306.66" font-size="45.50" font-family='"Liberation Sans", sans-serif' fill="#1c1c1c">80</text>
<text x="169.22" y="3039.00" font-size="45.50" font-family='"Liberation Sans", sans-serif' fill="#1c1c1c">0.00</text>
<text x="308.51" y="3039.00" font-size="45.50" font-family='"Liberation Sans", sans-serif' fill="#1c1c1c">0.0</text>
<path d="M763 0H583V1147Q518 1085 412.5 1023T223 930V1104Q374 1175 487 1276T647 1472H763V0Z" transform="translate(371.76,3039.00) scale(0.02222,-0.02222)" fill="#1c1c1c"/>
<text x="447.79" y="3039.00" font-size="45.50" font-family='"Liberation Sans", sans-serif' fill="#1c1c1c">0.02</text>
<text x="587.08" y="3039.00" font-size="45.50" font-family='"Liberation Sans", sans-serif' fill="#1c1c1c">0.03</text>
<text x="726.36" y="3039.00" font-size="45.50" font-family='"Liberation Sans", sans-serif' fill="#1c1c1c">0.04</text>
<text x="865.65" y="3039.00" font-size="45.50" font-family='"Liberation Sans", sans-serif' fill="#1c1c1c">0.05</text>
<text x="1004.94" y="3039.00" font-size="45.50" font-family='"Liberation Sans", sans-serif' fill="#1c1c1c">0.06</text>
<text x="1144.22" y="3039.00" font-size="45.50" font-family='"Liberation Sans", sans-serif' fill="#1c1c1c">0.07</text>
<text transform="translate(93.50,2851.29) rotate(-90) scale(0.9930,1)" font-size="58.00" font-family='"Liberation Sans", sans-serif' fill="#1c1c1c">Spool Disp. (mm)</text>
<text transform="translate(1342.00,2761.69) rotate(-90) scale(0.9942,1)" font-size="58.00" font-family='"Liberation Sans", sans-serif' fill="#1c1c1c">Voltage (V)</text>
<text transform="translate(567.49,3122.30) scale(1.0365,1)" font-size="56.00" font-family='"Liberation Sans", sans-serif' fill="#1c1c1c">Time (sec)</text>
<path d="M274.2,2987.5 C274.9,2970.7 277.0,2930.8 278.6,2886.4 C280.2,2842.0 282.5,2776.1 284.1,2721.0 C285.7,2665.9 286.8,2606.2 288.2,2555.7 C289.6,2505.2 291.2,2452.3 292.4,2417.8 C293.5,2383.3 294.3,2365.2 295.1,2348.9 C295.9,2332.6 296.3,2326.4 297.0,2320.0 C297.7,2313.6 298.6,2310.3 299.3,2310.3 C300.1,2310.3 300.8,2313.6 301.5,2320.0 C302.2,2326.4 302.2,2328.0 303.4,2348.9 C304.6,2369.8 307.1,2401.8 308.9,2445.4 C310.7,2489.1 312.8,2560.2 314.4,2610.8 C316.0,2661.4 317.5,2717.2 318.6,2748.7 C319.7,2780.2 320.1,2786.2 321.0,2800.0 C321.9,2813.8 323.1,2828.9 324.1,2831.4 C325.1,2833.9 325.9,2824.2 327.0,2815.0 C328.1,2805.8 329.2,2805.7 331.0,2776.3 C332.8,2746.9 335.8,2675.2 337.9,2638.4 C340.0,2601.6 342.0,2573.8 343.4,2555.7 C344.8,2537.6 345.4,2535.3 346.5,2530.0 C347.6,2524.7 348.6,2524.0 349.7,2524.0 C350.8,2524.0 352.0,2527.0 353.0,2530.0 C354.0,2533.0 354.4,2530.7 355.8,2541.9 C357.2,2553.1 359.2,2578.6 361.3,2597.0 C363.4,2615.4 366.0,2641.2 368.2,2652.2 C370.4,2663.2 372.2,2663.2 374.5,2663.2 C376.8,2663.2 379.4,2660.9 382.0,2652.2 C384.6,2643.5 388.1,2621.7 390.3,2610.8 C392.5,2599.9 393.6,2592.1 395.0,2587.0 C396.4,2581.9 396.8,2579.8 398.5,2580.5 C400.2,2581.2 403.1,2589.0 405.4,2591.5 C407.7,2594.0 409.9,2595.4 412.3,2595.7 C414.7,2595.9 417.5,2594.2 420.0,2593.0 C422.5,2591.8 424.8,2592.3 427.5,2588.8 C430.2,2585.3 433.2,2576.4 436.0,2572.0 C438.8,2567.6 439.9,2563.9 444.0,2562.6 C448.1,2561.3 455.1,2563.5 460.6,2564.0 C466.1,2564.5 472.5,2563.3 477.1,2565.4 C481.7,2567.5 485.2,2574.5 488.1,2576.4 C491.1,2578.3 488.8,2575.3 494.8,2577.0 C500.9,2578.7 514.5,2583.2 524.4,2586.3 C534.3,2589.4 545.4,2592.7 554.0,2595.5 C562.6,2598.3 570.0,2601.1 576.2,2602.9 C582.4,2604.8 570.4,2605.8 591.0,2606.6 C611.6,2607.4 648.5,2607.3 700.0,2607.5 C751.5,2607.7 818.7,2607.8 900.0,2607.5 C981.3,2607.2 1140.0,2606.2 1188.0,2606.0" fill="none" stroke="#050505" stroke-width="6.2" stroke-linecap="round" stroke-linejoin="round"/>
<path d="M591.0,2606.4 L593.5,2605.4 L596.1,2608.5 L598.6,2605.0 L601.1,2607.8 L603.7,2606.8 L606.2,2605.0 L608.7,2607.7 L611.3,2604.9 L613.8,2607.3 L616.3,2605.2 L618.9,2605.3 L621.4,2607.3 L624.0,2609.8 L626.5,2605.6 L629.0,2606.2 L631.6,2608.6 L634.1,2610.6 L636.6,2608.4 L639.2,2607.3 L641.7,2610.8 L644.2,2605.3 L646.8,2610.2 L649.3,2606.8 L651.8,2605.9 L654.4,2605.8 L656.9,2607.0 L659.4,2610.0 L662.0,2606.2 L664.5,2608.7 L667.0,2609.0 L669.6,2607.5 L672.1,2608.5 L674.7,2605.6 L677.2,2605.6 L679.7,2606.5 L682.3,2609.4 L684.8,2607.9 L687.3,2607.3 L689.9,2608.9 L692.4,2608.1 L694.9,2607.3 L697.5,2610.2 L700.0,2609.7 L702.5,2607.0 L705.0,2608.9 L707.5,2608.7 L710.0,2610.8 L712.5,2609.9 L715.0,2607.2 L717.5,2611.4 L720.0,2606.2 L722.5,2608.0 L725.0,2610.0 L727.5,2606.4 L730.0,2608.4 L732.5,2605.7 L735.0,2609.5 L737.5,2610.1 L740.0,2608.9 L742.5,2610.8 L745.0,2607.4 L747.5,2609.7 L750.0,2609.1 L752.5,2609.0 L755.0,2608.2 L757.5,2610.5 L760.0,2611.2 L762.5,2608.3 L765.0,2609.5 L767.5,2605.9 L770.0,2609.7 L772.5,2609.4 L775.0,2611.5 L777.5,2610.4 L780.0,2607.2 L782.5,2607.8 L785.0,2609.5 L787.5,2605.6 L790.0,2608.3 L792.5,2606.5 L795.0,2606.2 L797.5,2605.9 L800.0,2610.1 L802.5,2606.3 L805.0,2607.0 L807.5,2607.8 L810.0,2610.7 L812.5,2606.0 L815.0,2608.2 L817.5,2608.8 L820.0,2610.8 L822.5,2610.4 L825.0,2610.7 L827.5,2607.2 L830.0,2608.0 L832.5,2607.7 L835.0,2610.8 L837.5,2611.2 L840.0,2606.4 L842.5,2606.6 L845.0,2606.9 L847.5,2606.9 L850.0,2608.4 L852.5,2609.0 L855.0,2607.1 L857.5,2605.5 L860.0,2608.0 L862.5,2607.7 L865.0,2608.9 L867.5,2611.2 L870.0,2609.6 L872.5,2608.6 L875.0,2609.2 L877.5,2609.6 L880.0,2605.8 L882.5,2610.9 L885.0,2610.2 L887.5,2610.7 L890.0,2610.3 L892.5,2607.9 L895.0,2607.9 L897.5,2606.1 L900.0,2609.3 L902.5,2605.9 L905.0,2605.9 L907.5,2606.7 L910.0,2606.4 L912.5,2607.5 L915.0,2605.7 L917.5,2605.4 L920.0,2606.3 L922.5,2606.0 L925.0,2607.6 L927.5,2605.5 L930.1,2610.6 L932.6,2609.0 L935.1,2606.2 L937.6,2606.8 L940.1,2607.4 L942.6,2607.5 L945.1,2606.0 L947.6,2610.3 L950.1,2611.2 L952.6,2608.0 L955.1,2608.1 L957.6,2605.7 L960.1,2605.8 L962.6,2607.2 L965.1,2606.7 L967.6,2610.1 L970.1,2606.1 L972.6,2605.3 L975.1,2610.8 L977.6,2608.3 L980.1,2606.0 L982.6,2608.3 L985.1,2605.2 L987.7,2608.2 L990.2,2610.9 L992.7,2610.2 L995.2,2609.2 L997.7,2606.6 L1000.2,2607.2 L1002.7,2606.0 L1005.2,2609.6 L1007.7,2608.1 L1010.2,2609.6 L1012.7,2606.9 L1015.2,2606.2 L1017.7,2609.8 L1020.2,2610.8 L1022.7,2610.0 L1025.2,2609.7 L1027.7,2609.7 L1030.2,2609.3 L1032.7,2606.2 L1035.2,2607.9 L1037.7,2606.9 L1040.2,2604.9 L1042.7,2604.9 L1045.3,2606.4 L1047.8,2606.3 L1050.3,2608.9 L1052.8,2610.4 L1055.3,2607.4 L1057.8,2610.3 L1060.3,2610.6 L1062.8,2610.4 L1065.3,2606.8 L1067.8,2605.9 L1070.3,2606.0 L1072.8,2605.8 L1075.3,2605.8 L1077.8,2608.3 L1080.3,2610.0 L1082.8,2609.6 L1085.3,2607.4 L1087.8,2608.4 L1090.3,2609.3 L1092.8,2605.0 L1095.3,2608.4 L1097.8,2609.9 L1100.3,2609.2 L1102.9,2608.9 L1105.4,2607.3 L1107.9,2605.5 L1110.4,2609.1 L1112.9,2606.4 L1115.4,2609.2 L1117.9,2610.2 L1120.4,2606.7 L1122.9,2606.7 L1125.4,2610.0 L1127.9,2608.7 L1130.4,2605.3 L1132.9,2605.0 L1135.4,2605.2 L1137.9,2609.7 L1140.4,2609.1 L1142.9,2605.1 L1145.4,2609.2 L1147.9,2610.1 L1150.4,2608.1 L1152.9,2606.3 L1155.4,2607.5 L1157.9,2604.9 L1160.5,2604.2 L1163.0,2610.0 L1165.5,2608.0 L1168.0,2607.3 L1170.5,2609.7 L1173.0,2606.7 L1175.5,2609.3 L1178.0,2609.0 L1180.5,2605.3 L1183.0,2605.5 L1185.5,2605.8 L1188.0,2607.0" fill="none" stroke="#080808" stroke-width="5.5" stroke-linecap="butt" stroke-linejoin="round"/>
<line x1="257.4" y1="2683.5" x2="257.4" y2="2651.0" stroke="#b81e2c" stroke-width="5.8"/>
<line x1="257.4" y1="2752.5" x2="257.4" y2="2720.0" stroke="#b81e2c" stroke-width="5.8"/>
<line x1="257.4" y1="2821.5" x2="257.4" y2="2789.0" stroke="#b81e2c" stroke-width="5.8"/>
<line x1="257.4" y1="2890.5" x2="257.4" y2="2858.0" stroke="#b81e2c" stroke-width="5.8"/>
<line x1="257.4" y1="2959.5" x2="257.4" y2="2927.0" stroke="#b81e2c" stroke-width="5.8"/>
<line x1="256.5" y1="2615.6" x2="266.7" y2="2605.2" stroke="#b81e2c" stroke-width="5.8"/>
<path d="M268.2,2605.8 L1188.0,2605.8" fill="none" stroke="#b81e2c" stroke-width="6.2" stroke-linecap="butt" stroke-linejoin="round" stroke-dasharray="16 12.9" stroke-dashoffset="-12.8"/>
<line x1="840.40" y1="2354.60" x2="923.80" y2="2354.60" stroke="#050505" stroke-width="5"/>
<text transform="translate(934.21,2366.50) scale(1.1039,1)" font-size="32.00" font-family='"Liberation Sans", sans-serif' fill="#1c1c1c">Spool Disp</text>
<line x1="843.60" y1="2403.30" x2="878.20" y2="2403.30" stroke="#b81e2c" stroke-width="5.5"/>
<line x1="911.20" y1="2403.30" x2="926.90" y2="2403.30" stroke="#b81e2c" stroke-width="5.5"/>
<text transform="translate(937.19,2414.40) scale(1.1179,1)" font-size="32.00" font-family='"Liberation Sans", sans-serif' fill="#1c1c1c">Input Voltage</text>
<text transform="translate(631.26,3246.08) scale(0.8227,1)" font-size="81.98" font-family='"Liberation Serif", serif' fill="#000">(</text>
<text transform="translate(658.25,3246.08) scale(0.9162,1)" font-size="82.50" font-family='"Liberation Serif", serif' font-weight="bold" fill="#000">c</text>
<text transform="translate(694.95,3246.08) scale(0.8432,1)" font-size="81.98" font-family='"Liberation Serif", serif' fill="#000">)</text>
</g>
</svg></body></html>
